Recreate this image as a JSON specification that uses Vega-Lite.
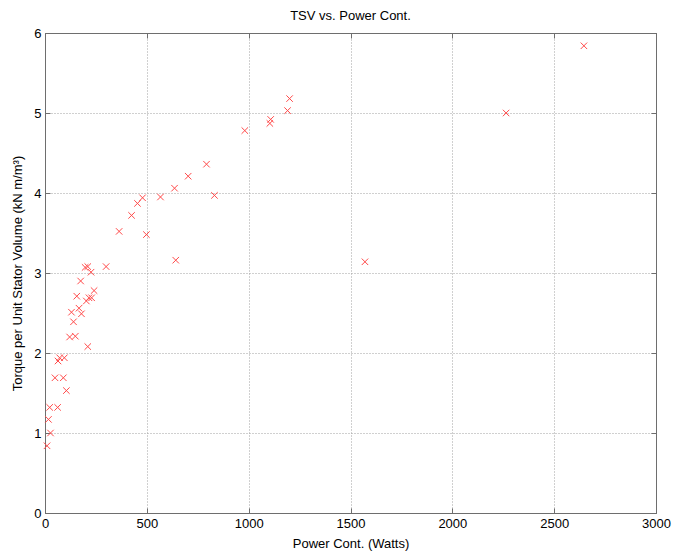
{
  "$schema": "https://vega.github.io/schema/vega-lite/v6.json",
  "width": 611,
  "height": 480,
  "autosize": {"type": "none"},
  "padding": {"left": 45, "top": 33, "right": 17, "bottom": 42},
  "background": "white",
  "title": {"text": "TSV vs. Power Cont.", "fontSize": 13, "fontWeight": "normal", "font": "Liberation Sans", "color": "#000000", "offset": 4, "anchor": "middle"},
  "config": {
    "font": "Liberation Sans",
    "view": {"stroke": "#6e6e6e", "strokeWidth": 1},
    "axis": {
      "labelFont": "Liberation Sans",
      "labelFontSize": 13,
      "labelColor": "#000000",
      "titleFont": "Liberation Sans",
      "titleFontSize": 13,
      "titleFontWeight": "normal",
      "titleColor": "#000000",
      "domainColor": "#6e6e6e",
      "tickColor": "#6e6e6e",
      "gridColor": "#a0a0a0",
      "gridDash": [1, 2],
      "gridOpacity": 1,
      "tickSize": -5,
      "labelPadding": 6
    }
  },
  "data": {"values": [
    {"power": 10, "tsv": 0.84},
    {"power": 27, "tsv": 1.00},
    {"power": 17, "tsv": 1.17},
    {"power": 23, "tsv": 1.32},
    {"power": 62, "tsv": 1.32},
    {"power": 49, "tsv": 1.69},
    {"power": 90, "tsv": 1.69},
    {"power": 105, "tsv": 1.53},
    {"power": 64, "tsv": 1.90},
    {"power": 72, "tsv": 1.94},
    {"power": 95, "tsv": 1.94},
    {"power": 121, "tsv": 2.20},
    {"power": 149, "tsv": 2.21},
    {"power": 210, "tsv": 2.08},
    {"power": 140, "tsv": 2.39},
    {"power": 130, "tsv": 2.51},
    {"power": 179, "tsv": 2.49},
    {"power": 167, "tsv": 2.56},
    {"power": 156, "tsv": 2.71},
    {"power": 203, "tsv": 2.65},
    {"power": 216, "tsv": 2.69},
    {"power": 229, "tsv": 2.69},
    {"power": 241, "tsv": 2.78},
    {"power": 175, "tsv": 2.90},
    {"power": 197, "tsv": 3.07},
    {"power": 210, "tsv": 3.08},
    {"power": 226, "tsv": 3.01},
    {"power": 300, "tsv": 3.08},
    {"power": 364, "tsv": 3.52},
    {"power": 425, "tsv": 3.72},
    {"power": 454, "tsv": 3.87},
    {"power": 479, "tsv": 3.94},
    {"power": 498, "tsv": 3.48},
    {"power": 567, "tsv": 3.95},
    {"power": 642, "tsv": 3.16},
    {"power": 636, "tsv": 4.06},
    {"power": 703, "tsv": 4.21},
    {"power": 793, "tsv": 4.36},
    {"power": 832, "tsv": 3.97},
    {"power": 981, "tsv": 4.78},
    {"power": 1108, "tsv": 4.92},
    {"power": 1104, "tsv": 4.87},
    {"power": 1191, "tsv": 5.03},
    {"power": 1201, "tsv": 5.18},
    {"power": 1571, "tsv": 3.14},
    {"power": 2264, "tsv": 5.00},
    {"power": 2646, "tsv": 5.84}
  ]},
  "layer": [
    {
      "mark": {"type": "point", "shape": "M-1,-1L1,1M-1,1L1,-1", "filled": false, "stroke": "#ff4a4a", "strokeWidth": 1, "size": 42, "opacity": 1},
      "encoding": {
        "x": {"field": "power", "type": "quantitative", "scale": {"domain": [0, 3000], "nice": false, "zero": false},
          "axis": {"title": "Power Cont. (Watts)", "values": [0, 500, 1000, 1500, 2000, 2500, 3000], "format": "d", "grid": true, "labelPadding": 9, "titlePadding": 7, "labelFlush": false}},
        "y": {"field": "tsv", "type": "quantitative", "scale": {"domain": [0, 6], "nice": false},
          "axis": {"title": "Torque per Unit Stator Volume (kN m/m³)", "values": [0, 1, 2, 3, 4, 5, 6], "format": "d", "grid": true, "labelPadding": 9, "titlePadding": 9, "labelFlush": false}}
      }
    },
    {
      "mark": {"type": "point", "opacity": 0},
      "encoding": {
        "x": {"field": "power", "type": "quantitative", "axis": {"orient": "top", "title": null, "labels": false, "grid": false, "values": [0, 500, 1000, 1500, 2000, 2500, 3000]}},
        "y": {"field": "tsv", "type": "quantitative", "axis": {"orient": "right", "title": null, "labels": false, "grid": false, "values": [0, 1, 2, 3, 4, 5, 6]}}
      }
    }
  ],
  "resolve": {"axis": {"x": "independent", "y": "independent"}}
}
